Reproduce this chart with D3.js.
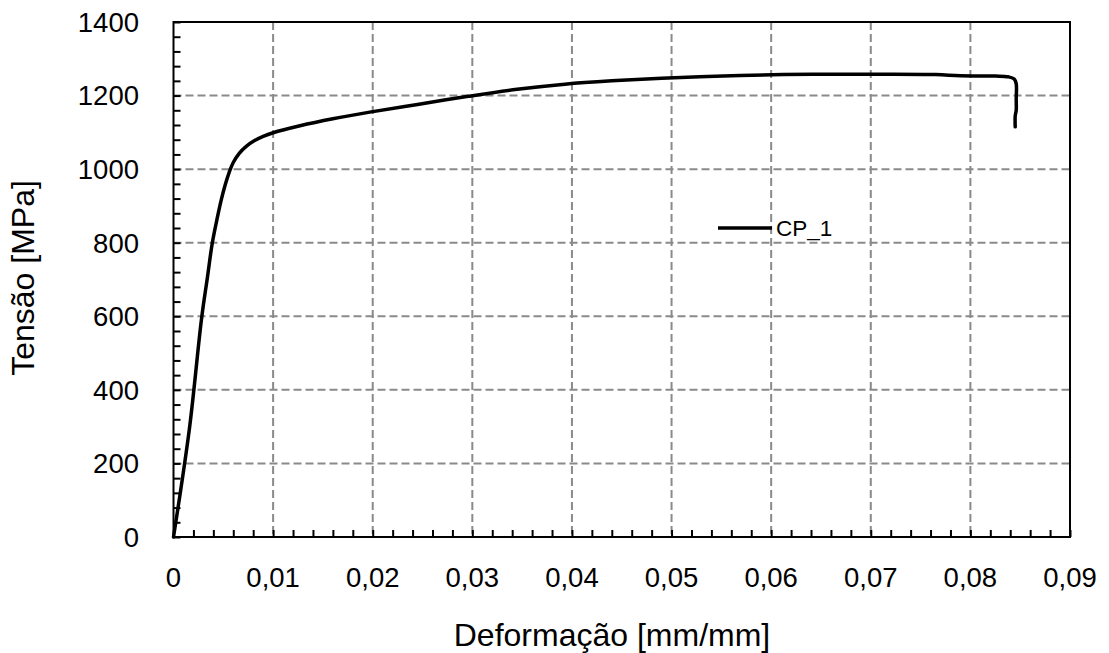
<!DOCTYPE html>
<html>
<head>
<meta charset="utf-8">
<script src="https://cdn.jsdelivr.net/npm/d3@7"></script>
<style>
  html, body { margin: 0; padding: 0; background: #fff; }
  svg { display: block; }
  text { font-family: "Liberation Sans", Arial, sans-serif; fill: #000; }
</style>
</head>
<body>
<svg id="chart" width="1109" height="653"></svg>
<script>
// ---- data ----
const seriesName = "CP_1";
const strain = [0, 0.0016, 0.0028, 0.0034, 0.0039, 0.0044, 0.0048, 0.0052, 0.0056, 0.0060, 0.0066, 0.0073, 0.0081, 0.0090, 0.0100, 0.0127, 0.0160, 0.0197, 0.0245, 0.0296, 0.0345, 0.0393, 0.0440, 0.0490, 0.0552, 0.0612, 0.0660, 0.0710, 0.0765, 0.0790, 0.0825, 0.0838, 0.0844, 0.0846, 0.0846, 0.0846, 0.0845, 0.0845];
const stress = [0, 295, 590, 705, 800, 868, 917, 958, 992, 1018, 1043, 1062, 1077, 1089, 1099, 1118, 1137, 1155, 1176, 1198, 1217, 1231, 1240, 1247, 1253, 1257, 1258, 1258, 1257, 1254, 1253, 1251, 1245, 1232, 1190, 1160, 1145, 1115];
const xTicks = [0, 0.01, 0.02, 0.03, 0.04, 0.05, 0.06, 0.07, 0.08, 0.09];
const xTickLabels = ["0", "0,01", "0,02", "0,03", "0,04", "0,05", "0,06", "0,07", "0,08", "0,09"];
const yTicks = [0, 200, 400, 600, 800, 1000, 1200, 1400];
const yTickLabels = ["0", "200", "400", "600", "800", "1000", "1200", "1400"];
const xTitle = "Deformação [mm/mm]";
const yTitle = "Tensão [MPa]";

// ---- layout ----
const L = 173.5, R = 1070, T = 22, B = 537;
const svg = d3.select("#chart");
const x = d3.scaleLinear().domain([0, 0.09]).range([L, R]);
const y = d3.scaleLinear().domain([0, 1400]).range([B, T]);

// gridlines
const grid = svg.append("g");
grid.selectAll("line.gx").data(xTicks.filter(d => d > 0 && d < 0.09)).enter().append("line")
  .attr("x1", d => x(d)).attr("x2", d => x(d)).attr("y1", T).attr("y2", B)
  .attr("stroke", "#8a8a8a").attr("stroke-width", 2).attr("stroke-dasharray", "8,4");
grid.selectAll("line.gy").data(yTicks.filter(d => d > 0 && d < 1400)).enter().append("line")
  .attr("y1", d => y(d)).attr("y2", d => y(d)).attr("x1", L).attr("x2", R)
  .attr("stroke", "#8a8a8a").attr("stroke-width", 2).attr("stroke-dasharray", "8,4");

// minor + major ticks (inside)
const xMinor = d3.range(0, 0.09 + 1e-9, 0.002);
const yMinor = d3.range(0, 1400 + 1e-9, 40);
const xAxis = d3.axisBottom(x).tickValues(xMinor).tickSize(-7).tickFormat("");
const yAxis = d3.axisLeft(y).tickValues(yMinor).tickSize(-7).tickFormat("");
const gx = svg.append("g").attr("transform", `translate(0,${B})`).call(xAxis);
const gy = svg.append("g").attr("transform", `translate(${L},0)`).call(yAxis);
[gx, gy].forEach(g => {
  g.select(".domain").remove();
  g.selectAll(".tick line").attr("stroke", "#000").attr("stroke-width", 2);
});

// tick labels
svg.append("g").selectAll("text").data(xTicks).enter().append("text")
  .attr("x", (d) => x(d)).attr("y", 587)
  .attr("text-anchor", "middle").attr("font-size", 27.5)
  .text((d, i) => xTickLabels[i]);
svg.append("g").selectAll("text").data(yTicks).enter().append("text")
  .attr("x", 139).attr("y", d => y(d)).attr("dy", "0.36em")
  .attr("text-anchor", "end").attr("font-size", 27.5)
  .text((d, i) => yTickLabels[i]);

// frame
svg.append("rect").attr("x", L).attr("y", T).attr("width", R - L).attr("height", B - T)
  .attr("fill", "none").attr("stroke", "#000").attr("stroke-width", 2);

// curve
const pts = strain.map((e, i) => [e, stress[i]]);
svg.append("path").datum(pts)
  .attr("d", d3.line().x(d => x(d[0])).y(d => y(d[1])).curve(d3.curveCatmullRom.alpha(0.5)))
  .attr("fill", "none").attr("stroke", "#000").attr("stroke-width", 3.5)
  .attr("stroke-linejoin", "round").attr("stroke-linecap", "round");

// legend
svg.append("line").attr("x1", 718).attr("x2", 772).attr("y1", 228).attr("y2", 228)
  .attr("stroke", "#000").attr("stroke-width", 3.5);
svg.append("text").attr("x", 776).attr("y", 236).attr("font-size", 22.5).text(seriesName);

// axis titles
svg.append("text").attr("x", 612).attr("y", 646).attr("text-anchor", "middle")
  .attr("font-size", 32).text(xTitle);
svg.append("text").attr("transform", "translate(34,278) rotate(-90)")
  .attr("text-anchor", "middle").attr("font-size", 32).text(yTitle);
</script>
</body>
</html>
